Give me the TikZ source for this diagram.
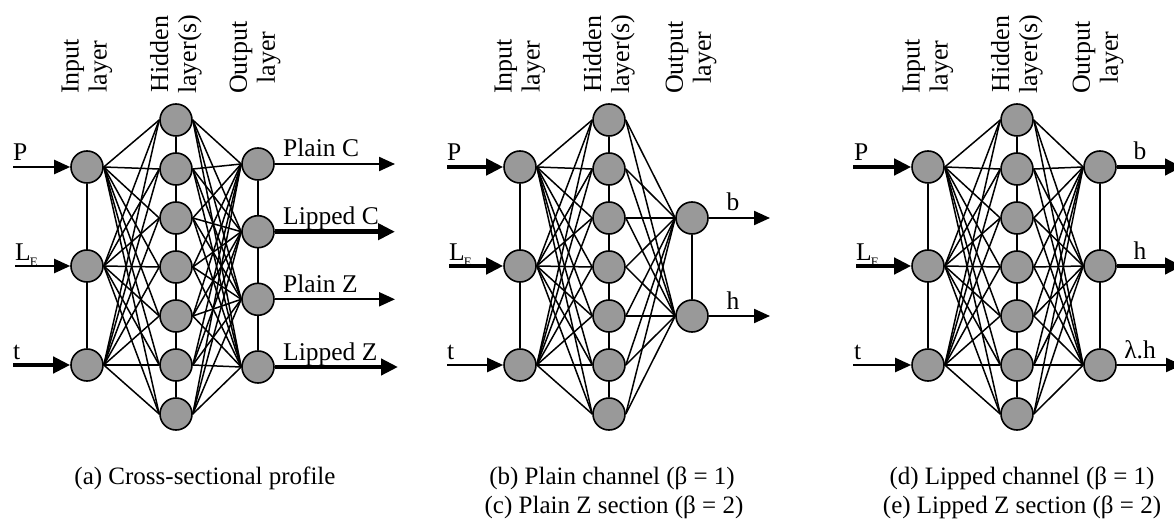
\documentclass[tikz,border=0pt]{standalone}
\usepackage{fontspec}
\setmainfont{Liberation Serif}
\usetikzlibrary{arrows.meta,backgrounds}
\definecolor{neuronfill}{RGB}{153,153,153}
\newcommand{\LE}{L\kern-1pt\raisebox{-6pt}{\fontsize{13}{13}\selectfont E}}
\begin{document}
\begin{tikzpicture}[x=1pt,y=-1pt,
  neuron/.style={circle,draw,fill=neuronfill,line width=1.6pt,minimum size=32pt,inner sep=0pt},
  link/.style={line width=1.5pt},
  feed/.style={line width=2.2pt,-{Triangle[length=16pt,width=14pt]}},
  feedbold/.style={line width=4.4pt,-{Triangle[length=17pt,width=16pt]}},
  lbl/.style={font=\fontsize{25.5}{29}\selectfont,inner sep=0pt,anchor=base west},
  olbl/.style={font=\fontsize{25.5}{29}\selectfont,inner sep=0pt,anchor=base},
  hdr/.style={rotate=90,anchor=west,align=center,inner sep=0pt,font=\fontsize{26}{28}\selectfont},
  capline/.style={font=\fontsize{25}{29}\selectfont,inner sep=0pt,anchor=base}
]
\useasboundingbox (0,0) rectangle (1174,521);

% ---------------- panel (a) ----------------
\foreach \y [count=\k] in {167,266,365} \node[neuron] (a-i\k) at (87,\y) {};
\foreach \k in {1,...,7} \node[neuron] (a-h\k) at (176,{120+49*(\k-1)}) {};
\foreach \y [count=\k] in {164,231.7,299.3,367} \node[neuron] (a-o\k) at (258,\y) {};
\begin{scope}[on background layer]
  \draw[link] (a-i1) -- (a-i3);
  \draw[link] (a-h1) -- (a-h7);
  \draw[link] (a-o1) -- (a-o4);
  \foreach \i in {1,2,3} \foreach \h in {1,...,7} \draw[link] (a-i\i.east) -- (a-h\h.west);
  \foreach \h in {1,...,7} \foreach \o in {1,...,4} \draw[link] (a-h\h.east) -- (a-o\o.west);
\end{scope}
\node[hdr] (a-t1) at (87,94) {Input\\layer};
\node[hdr] (a-t2) at (176,94) {Hidden\\layer(s)};
\node[hdr] (a-t3) at (255,94) {Output\\layer};
\coordinate (a-s1) at (13,167);
\coordinate (a-s2) at (15,266);
\coordinate (a-s3) at (13,365);
\draw[feed] (a-s1) -- (a-i1.west);
\draw[feed] (a-s2) -- (a-i2.west);
\draw[feedbold] (a-s3) -- (a-i3.west);
\node[lbl] (a-l1) at (13,161) {P};
\node[lbl] (a-l2) at (15,260) {\LE};
\node[lbl] (a-l3) at (13,359) {t};
\coordinate (a-e1) at (395,164);
\coordinate (a-e2) at (395,231.7);
\coordinate (a-e3) at (395,299.3);
\coordinate (a-e4) at (398,367);
\draw[feed] (a-o1.east) -- (a-e1);
\draw[feedbold] (a-o2.east) -- (a-e2);
\draw[feed] (a-o3.east) -- (a-e3);
\draw[feedbold] (a-o4.east) -- (a-e4);
\node[lbl] (a-r1) at (283,157) {Plain C};
\node[lbl] (a-r2) at (283,224.7) {Lipped C};
\node[lbl] (a-r3) at (283,292.3) {Plain Z};
\node[lbl] (a-r4) at (283,360) {Lipped Z};
\node[capline] (a-c) at (205,484) {(a) Cross-sectional profile};

% ---------------- panel (b)/(c) ----------------
\foreach \y [count=\k] in {167,266,365} \node[neuron] (b-i\k) at (520,\y) {};
\foreach \k in {1,...,7} \node[neuron] (b-h\k) at (609,{120+49*(\k-1)}) {};
\foreach \y [count=\k] in {218,316} \node[neuron] (b-o\k) at (692,\y) {};
\begin{scope}[on background layer]
  \draw[link] (b-i1) -- (b-i3);
  \draw[link] (b-h1) -- (b-h7);
  \draw[link] (b-o1) -- (b-o2);
  \foreach \i in {1,2,3} \foreach \h in {1,...,7} \draw[link] (b-i\i.east) -- (b-h\h.west);
  \foreach \h in {1,...,7} \foreach \o in {1,2} \draw[link] (b-h\h.east) -- (b-o\o.west);
\end{scope}
\node[hdr] (b-t1) at (520,94) {Input\\layer};
\node[hdr] (b-t2) at (609,94) {Hidden\\layer(s)};
\node[hdr] (b-t3) at (691,94) {Output\\layer};
\coordinate (b-s1) at (447,167);
\coordinate (b-s2) at (449,266);
\coordinate (b-s3) at (447,365);
\draw[feedbold] (b-s1) -- (b-i1.west);
\draw[feedbold] (b-s2) -- (b-i2.west);
\draw[feed] (b-s3) -- (b-i3.west);
\node[lbl] (b-l1) at (447,161) {P};
\node[lbl] (b-l2) at (449,260) {\LE};
\node[lbl] (b-l3) at (447,359) {t};
\coordinate (b-e1) at (770,218);
\coordinate (b-e2) at (770,316);
\draw[feed] (b-o1.east) -- (b-e1);
\draw[feed] (b-o2.east) -- (b-e2);
\node[olbl] (b-r1) at (733,211) {b};
\node[olbl] (b-r2) at (733,309) {h};
\node[capline] (b-c1) at (612,484) {(b) Plain channel (β = 1)};
\node[capline] (b-c2) at (614,513) {(c) Plain Z section (β = 2)};

% ---------------- panel (d)/(e) ----------------
\foreach \y [count=\k] in {167,266,365} \node[neuron] (d-i\k) at (928,\y) {};
\foreach \k in {1,...,7} \node[neuron] (d-h\k) at (1017,{120+49*(\k-1)}) {};
\foreach \y [count=\k] in {167,266,365} \node[neuron] (d-o\k) at (1100,\y) {};
\begin{scope}[on background layer]
  \draw[link] (d-i1) -- (d-i3);
  \draw[link] (d-h1) -- (d-h7);
  \draw[link] (d-o1) -- (d-o3);
  \foreach \i in {1,2,3} \foreach \h in {1,...,7} \draw[link] (d-i\i.east) -- (d-h\h.west);
  \foreach \h in {1,...,7} \foreach \o in {1,2,3} \draw[link] (d-h\h.east) -- (d-o\o.west);
\end{scope}
\node[hdr] (d-t1) at (928,94) {Input\\layer};
\node[hdr] (d-t2) at (1017,94) {Hidden\\layer(s)};
\node[hdr] (d-t3) at (1098,94) {Output\\layer};
\coordinate (d-s1) at (853,167);
\coordinate (d-s2) at (856,266);
\coordinate (d-s3) at (853,365);
\draw[feedbold] (d-s1) -- (d-i1.west);
\draw[feedbold] (d-s2) -- (d-i2.west);
\draw[feed] (d-s3) -- (d-i3.west);
\node[lbl] (d-l1) at (854,161) {P};
\node[lbl] (d-l2) at (856,260) {\LE};
\node[lbl] (d-l3) at (854,359) {t};
\coordinate (d-e1) at (1182,167);
\coordinate (d-e2) at (1182,266);
\coordinate (d-e3) at (1182,365);
\draw[feedbold] (d-o1.east) -- (d-e1);
\draw[feedbold] (d-o2.east) -- (d-e2);
\draw[feed] (d-o3.east) -- (d-e3);
\node[olbl] (d-r1) at (1140,160) {b};
\node[olbl] (d-r2) at (1140,259) {h};
\node[olbl] (d-r3) at (1140,358) {λ.h};
\node[capline] (d-c1) at (1022,484) {(d) Lipped channel (β = 1)};
\node[capline] (d-c2) at (1022,513) {(e) Lipped Z section (β = 2)};
\end{tikzpicture}
\end{document}
